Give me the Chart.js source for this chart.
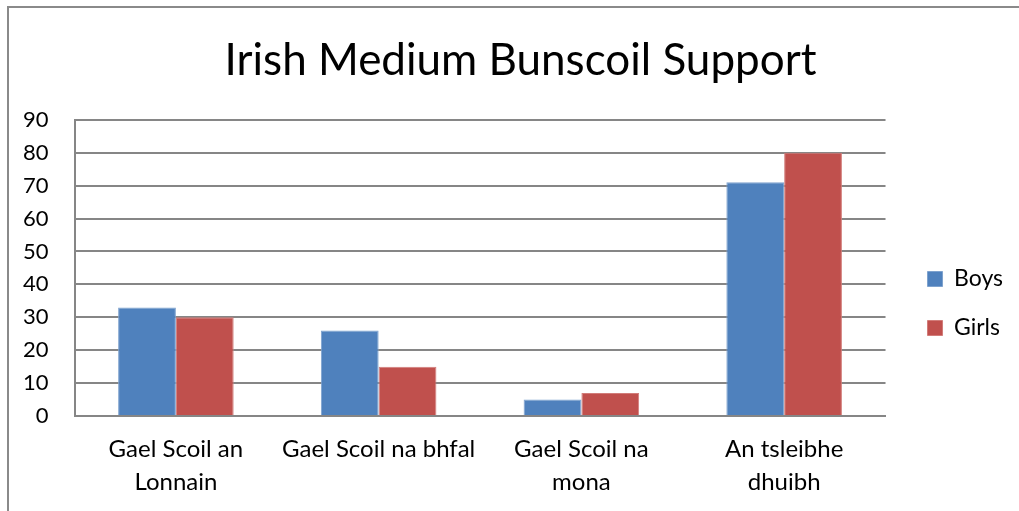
<!DOCTYPE html>
<html>
<head>
<meta charset="utf-8">
<script src="https://cdn.jsdelivr.net/npm/chart.js@4.4.0/dist/chart.umd.min.js"></script>
<style>
  html, body { margin: 0; padding: 0; background: #fff; }
  #wrap { width: 1019px; height: 511px; position: relative; }
</style>
</head>
<body>
<div id="wrap"><canvas id="myChart" width="1019" height="511"></canvas></div>
<script>
// Chart data
const categories = [['Gael Scoil an', 'Lonnain'], 'Gael Scoil na bhfal', ['Gael Scoil na', 'mona'], ['An tsleibhe', 'dhuibh']];
const boys = [33, 26, 5, 71];
const girls = [30, 15, 7, 80];
const yTicks = [0, 10, 20, 30, 40, 50, 60, 70, 80, 90];

const fontFamily = 'Lato, "Open Sans", sans-serif';

// frame line at left and top, like the pasted chart object
const framePlugin = {
    id: 'frame',
    beforeDraw(chart) {
        const c = chart.ctx;
        c.save();
        c.strokeStyle = '#8a8a8a';
        c.lineWidth = 2;
        c.beginPath();
        c.moveTo(8, 511);
        c.lineTo(8, 7);
        c.lineTo(1019, 7);
        c.stroke();
        c.restore();
    }
};

// nudge title and legend to where Excel put them
const nudgePlugin = {
    id: 'nudge',
    afterLayout(chart) {
        const t = chart.titleBlock;
        if (t) { t.left += 22; t.right += 22; }
        const l = chart.legend;
        if (l) { l.left += 16; l.right += 16; l.top += 37; l.bottom += 37; }
    }
};

const data = {
    labels: categories,
    datasets: [{
        label: 'Boys',
        data: boys,
        backgroundColor: '#4F81BD',
        borderColor: '#7EA2CE',
        borderWidth: 1
    }, {
        label: 'Girls',
        data: girls,
        backgroundColor: '#C0504D',
        borderColor: '#D27C79',
        borderWidth: 1
    }]
};

const config = {
    type: 'bar',
    data: data,
    options: {
        responsive: false,
        animation: false,
        layout: { padding: { top: 34, left: 0, right: 22, bottom: 12 } },
        datasets: {
            bar: { barPercentage: 1, categoryPercentage: 0.57 }
        },
        plugins: {
            title: {
                display: true,
                text: 'Irish Medium Bunscoil Support',
                color: '#000',
                font: { family: fontFamily, size: 44, weight: 'normal' },
                padding: { top: 0, bottom: 33 }
            },
            legend: {
                position: 'right',
                labels: {
                    color: '#000',
                    boxWidth: 15,
                    boxHeight: 15,
                    padding: 26,
                    font: { family: fontFamily, size: 23 }
                }
            },
            tooltip: { enabled: false }
        },
        scales: {
            x: {
                grid: { display: false, drawTicks: false },
                border: { color: '#868686', width: 2 },
                afterFit(axis) { axis.height = 83; },
                ticks: {
                    color: '#000',
                    padding: 16,
                    maxRotation: 0,
                    font: { family: fontFamily, size: 24, lineHeight: 1.4 }
                }
            },
            y: {
                min: 0,
                max: 90,
                afterBuildTicks(axis) {
                    axis.ticks = yTicks.map(v => ({ value: v }));
                },
                afterFit(axis) { axis.width -= 3; },
                grid: { color: '#868686', lineWidth: 2, drawTicks: false },
                border: { color: '#868686', width: 2 },
                ticks: {
                    color: '#000',
                    padding: 26,
                    font: { family: fontFamily, size: 22 }
                }
            }
        }
    },
    plugins: [framePlugin, nudgePlugin]
};

// Render the chart
const ctx = document.getElementById('myChart').getContext('2d');
const myChart = new Chart(ctx, config);
</script>
</body>
</html>
